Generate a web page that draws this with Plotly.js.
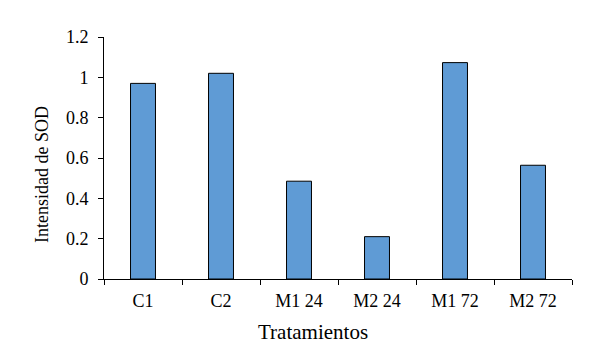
<!DOCTYPE html>
<html>
<head>
<meta charset="utf-8">
<script src="https://cdn.plot.ly/plotly-3.0.1.min.js"></script>
<style>html,body{margin:0;padding:0;background:#fff;}#chart{width:616px;height:359px;}</style>
</head>
<body>
<div id="chart"></div>
<script>
const categories = ["C1", "C2", "M1 24", "M2 24", "M1 72", "M2 72"];
const sodValues = [0.97, 1.02, 0.485, 0.21, 1.073, 0.564];
const yTickValues = [0, 0.2, 0.4, 0.6, 0.8, 1, 1.2];
const yTickLabels = ["0", "0.2", "0.4", "0.6", "0.8", "1", "1.2"];
const xTitle = "Tratamientos";
const yTitle = "Intensidad de SOD";

const font = "Liberation Serif, Times New Roman, serif";

Plotly.newPlot("chart", [{
  type: "bar",
  x: categories,
  y: sodValues,
  width: 0.32,
  marker: {color: "rgb(95,155,213)", line: {color: "#000", width: 1}},
  hoverinfo: "none"
}], {
  width: 616, height: 359,
  margin: {l: 104, r: 44, t: 37, b: 80},
  paper_bgcolor: "#fff", plot_bgcolor: "#fff",
  showlegend: false,
  font: {family: font, size: 18, color: "#000"},
  xaxis: {
    type: "category",
    range: [-0.5, 5.5],
    showline: true, linecolor: "#000", linewidth: 1,
    ticks: "outside", ticklen: 5, tickcolor: "#000", tickwidth: 1,
    tickson: "boundaries",
    ticklabelstandoff: 5,
    showgrid: false, zeroline: false,
    tickfont: {family: font, size: 18, color: "#000"},
    automargin: false
  },
  yaxis: {
    range: [0, 1.2],
    tickvals: yTickValues, ticktext: yTickLabels,
    showline: true, linecolor: "#000", linewidth: 1,
    ticks: "outside", ticklen: 5, tickcolor: "#000", tickwidth: 1,
    ticklabelstandoff: 6,
    showgrid: false, zeroline: false,
    tickfont: {family: font, size: 18, color: "#000"},
    automargin: false
  },
  annotations: [
    {text: xTitle, xref: "paper", yref: "paper", x: 0.447, y: -0.221,
     xanchor: "center", yanchor: "middle", showarrow: false,
     font: {family: font, size: 21, color: "#000"}},
    {text: yTitle, xref: "paper", yref: "paper", x: -0.1325, y: 0.434,
     xanchor: "center", yanchor: "middle", showarrow: false, textangle: -90,
     font: {family: font, size: 18, color: "#000"}}
  ]
}, {staticPlot: true});
</script>
</body>
</html>
